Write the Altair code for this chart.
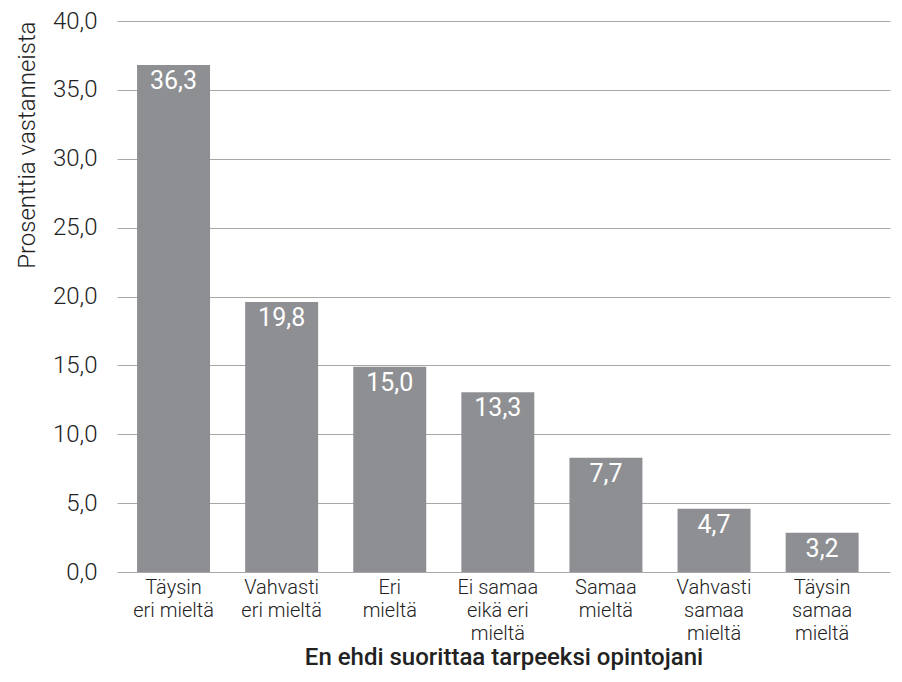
import altair as alt
import pandas as pd

categories = [
    "Täysin|eri mieltä",
    "Vahvasti|eri mieltä",
    "Eri|mieltä",
    "Ei samaa|eikä eri|mieltä",
    "Samaa|mieltä",
    "Vahvasti|samaa|mieltä",
    "Täysin|samaa|mieltä",
]
bar_heights = [36.8, 19.6, 14.9, 13.05, 8.3, 4.6, 2.85]
value_labels = ["36,3", "19,8", "15,0", "13,3", "7,7", "4,7", "3,2"]
y_ticks = [0, 5, 10, 15, 20, 25, 30, 35, 40]

df = pd.DataFrame({"cat": categories, "h": bar_heights, "lab": value_labels})

FONT = "Roboto"
BAR = "#8e8f93"

x = alt.X(
    "cat:N",
    sort=categories,
    scale=alt.Scale(paddingInner=0.325, paddingOuter=0.238, align=0.39),
    axis=alt.Axis(
        title="En ehdi suorittaa tarpeeksi opintojani",
        titleFont=FONT, titleFontSize=24, titleFontWeight=500, titleColor="#222",
        titlePadding=2,
        labelExpr="split(datum.label, '|')",
        labelFont=FONT, labelFontSize=20, labelFontWeight=300, labelColor="#222",
        labelAngle=0, labelPadding=5, labelLineHeight=23, labelBaseline="top",
        ticks=False, domain=False,
    ),
)
y = alt.Y(
    "h:Q",
    scale=alt.Scale(domain=[0, 40], nice=False),
    axis=alt.Axis(
        title="Prosenttia vastanneista",
        titleFont=FONT, titleFontSize=24, titleFontWeight=300, titleColor="#222",
        titlePadding=13, titleAnchor="end",
        values=y_ticks,
        labelExpr="replace(format(datum.value, '.1f'), '.', ',')",
        labelFont=FONT, labelFontSize=24, labelFontWeight=300, labelColor="#222",
        labelPadding=20,
        ticks=False, domain=False,
        grid=True, gridColor="#a8a8a8", gridWidth=1.2,
    ),
)

bars = alt.Chart(df).mark_bar(color=BAR).encode(x=x, y=y)
text = alt.Chart(df).mark_text(
    color="white", font=FONT, fontSize=25, fontWeight=400, baseline="top", dy=4
).encode(x=alt.X("cat:N", sort=categories), y="h:Q", text="lab:N")

chart = (
    alt.layer(bars, text)
    .properties(
        width=773, height=551,
        autosize=alt.AutoSizeParams(type="none"),
        padding={"left": 109, "top": 13, "right": 4, "bottom": 102},
        background="white",
    )
    .configure_view(stroke=None)
)

chart.save("out.html", embed_options={"renderer": "svg", "actions": False})
